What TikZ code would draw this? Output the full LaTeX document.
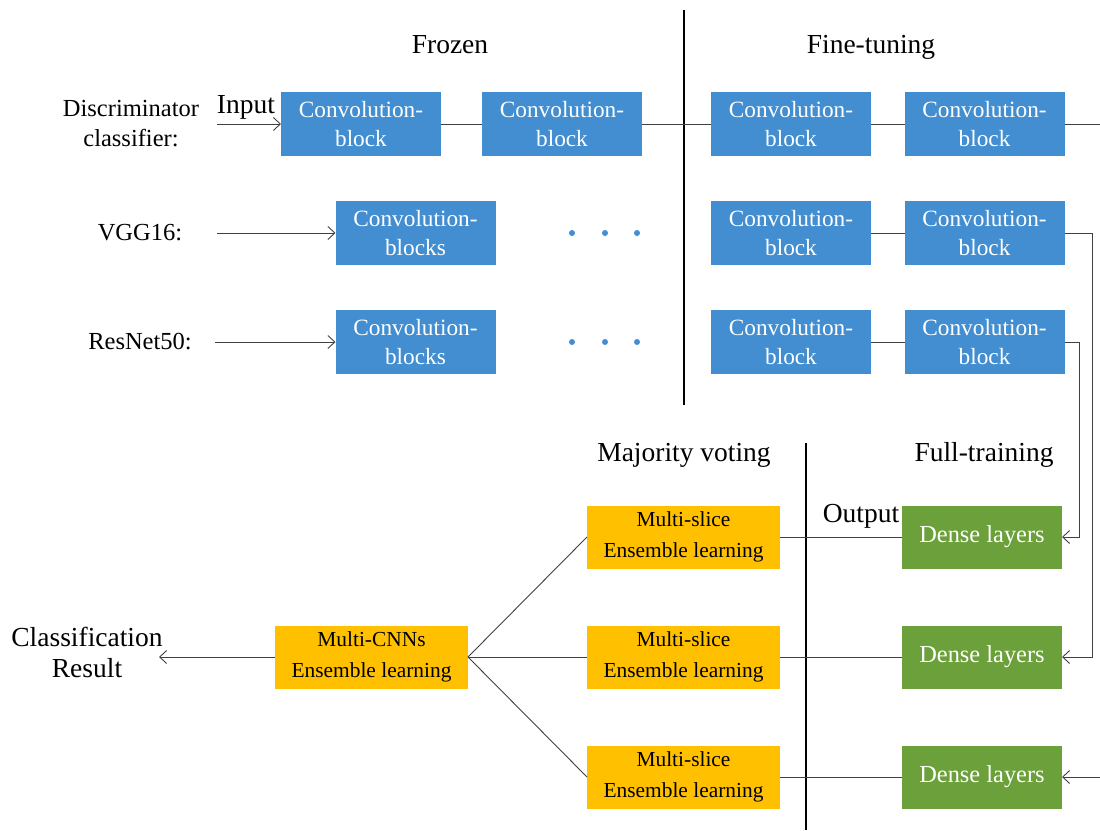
\documentclass[tikz,border=0pt]{standalone}
\usepackage{fontspec}
\setmainfont{Liberation Serif}
\usetikzlibrary{arrows.meta}
\definecolor{cblue}{RGB}{66,142,208}
\definecolor{cgreen}{RGB}{107,160,58}
\definecolor{cyellow}{RGB}{255,192,0}
\definecolor{cline}{RGB}{64,64,64}
\begin{document}
\begin{tikzpicture}[x=1pt,y=-1pt,
  every node/.style={inner sep=0pt, outer sep=0pt},
  blk/.style={fill=cblue, minimum width=160pt, minimum height=64pt, text=white, align=center, font=\fontsize{23.3}{29}\selectfont},
  dns/.style={fill=cgreen, minimum width=160pt, minimum height=63pt, text=white, font=\fontsize{24.4}{28}\selectfont},
  ens/.style={fill=cyellow, minimum width=193pt, minimum height=63pt, align=center, font=\fontsize{21.4}{31}\selectfont},
  lbl/.style={align=center, font=\fontsize{24.5}{30}\selectfont},
  ttl/.style={font=\fontsize{27.5}{31}\selectfont, text height=18pt, text depth=6pt},
  cltx/.style={align=center, font=\fontsize{27.5}{31}\selectfont},
  conn/.style={draw=cline, line width=0.9pt},
  arr/.style={conn, -{Straight Barb[length=7pt,width=13pt]}},
  sepline/.style={draw=black, line width=2pt}]
\useasboundingbox (0,0) rectangle (1100,830);

% separators
\draw[sepline] (684,10) -- (684,405);
\draw[sepline] (806,443) -- (806,830);

% titles
\node[ttl] (frozen) at (450,47) {Frozen};
\node[ttl] (fine) at (871,47) {Fine-tuning};
\node[ttl] (maj) at (684,455) {Majority voting};
\node[ttl] (full) at (984,455) {Full-training};
\node[ttl] (out) at (861,516) {Output};

% row labels
\node[lbl] (disc) at (131,124) {Discriminator\\classifier:};
\node[ttl] (input) at (246,107) {Input};
\node[lbl] (vgg) at (140,233) {VGG16:};
\node[lbl] (res) at (140,342) {ResNet50:};
\coordinate (inA) at (217,124);
\coordinate (vggA) at (217,233);
\coordinate (resA) at (215,342);

% blue blocks
\node[blk] (d1) at (361,124) {Convolution-\\block};
\node[blk] (d2) at (562,124) {Convolution-\\block};
\node[blk] (d3) at (791,124) {Convolution-\\block};
\node[blk] (d4) at (984.5,124) {Convolution-\\block};
\node[blk] (v1) at (415.5,233) {Convolution-\\blocks};
\node[blk] (v3) at (791,233) {Convolution-\\block};
\node[blk] (v4) at (984.5,233) {Convolution-\\block};
\node[blk] (r1) at (415.5,342) {Convolution-\\blocks};
\node[blk] (r3) at (791,342) {Convolution-\\block};
\node[blk] (r4) at (984.5,342) {Convolution-\\block};

% dots
\foreach \x in {572,605,637}{
  \fill[cblue] (\x,233) circle (3pt);
  \fill[cblue] (\x,342) circle (3pt);
}

% yellow and green
\node[ens] (e1) at (683.5,537) {Multi-slice\\Ensemble learning};
\node[ens] (e2) at (683.5,657) {Multi-slice\\Ensemble learning};
\node[ens] (e3) at (683.5,777) {Multi-slice\\Ensemble learning};
\node[dns] (g1) at (982,537) {Dense layers};
\node[dns] (g2) at (982,657) {Dense layers};
\node[dns] (g3) at (982,777) {Dense layers};
\node[ens] (mc) at (371.5,657) {Multi-CNNs\\Ensemble learning};
\node[cltx] (cls) at (87,652) {Classification\\Result};
\coordinate (clsA) at (159,657);

% connectors
\draw[arr] (inA) -- (d1.west);
\draw[conn] (d1) -- (d2);
\draw[conn] (d2) -- (d3);
\draw[conn] (d3) -- (d4);
\coordinate (d4end) at (1100,124);
\draw[conn] (d4.east) -- (d4end);
\draw[arr] (vggA) -- (v1.west);
\draw[arr] (resA) -- (r1.west);
\draw[conn] (v3) -- (v4);
\draw[conn] (r3) -- (r4);
\coordinate (vx) at (1092,233);
\coordinate (rx) at (1079,342);
\draw[arr] (v4.east) -- (vx) |- (g2.east);
\draw[arr] (r4.east) -- (rx) |- (g1.east);
\coordinate (g3in) at (1100,777);
\draw[arr] (g3in) -- (g3.east);
\draw[conn] (e1) -- (g1);
\draw[conn] (e2) -- (g2);
\draw[conn] (e3) -- (g3);
\draw[conn] (mc.east) -- (e1.west);
\draw[conn] (mc.east) -- (e2.west);
\draw[conn] (mc.east) -- (e3.west);
\draw[arr] (mc.west) -- (clsA);
\end{tikzpicture}
\end{document}
